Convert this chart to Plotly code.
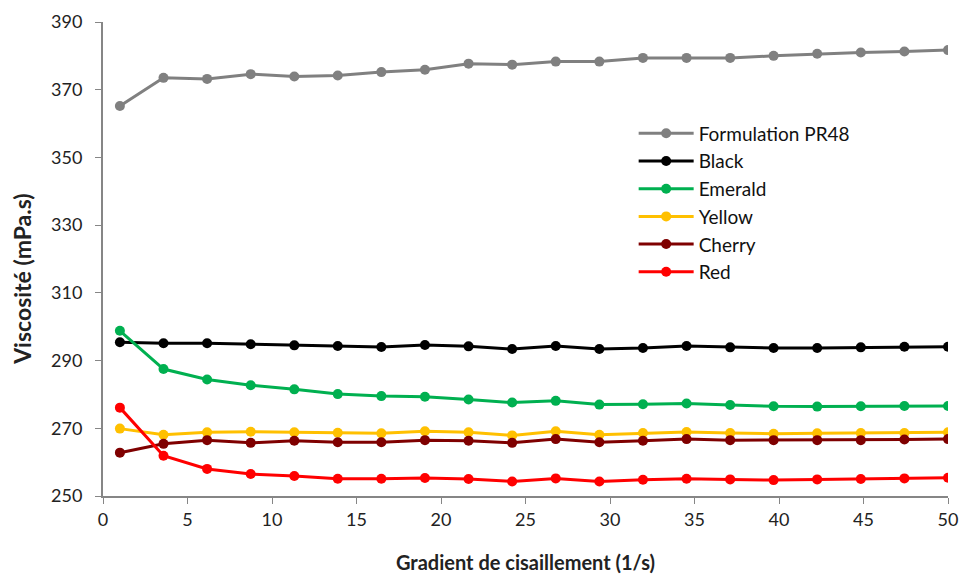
import plotly.graph_objects as go

# shear rate (1/s)
shear_rate = [1, 3.58, 6.16, 8.74, 11.32, 13.89, 16.47, 19.05, 21.63, 24.21,
              26.79, 29.37, 31.95, 34.53, 37.11, 39.68, 42.26, 44.84, 47.42, 50]

# viscosity (mPa.s)
pr48 = [365.2, 373.5, 373.2, 374.6, 373.9, 374.2, 375.2, 375.9, 377.7, 377.4,
        378.3, 378.3, 379.4, 379.4, 379.4, 380.0, 380.6, 381.0, 381.3, 381.7]
black = [295.4, 295.1, 295.1, 294.8, 294.5, 294.3, 294.0, 294.6, 294.2, 293.4,
         294.3, 293.4, 293.7, 294.3, 293.9, 293.7, 293.7, 293.9, 294.1, 294.1]
emerald = [298.8, 287.5, 284.4, 282.7, 281.5, 280.1, 279.5, 279.3, 278.5, 277.6,
           278.1, 277.0, 277.1, 277.3, 276.9, 276.5, 276.4, 276.5, 276.6, 276.6]
yellow = [269.9, 268.1, 268.8, 269.0, 268.8, 268.7, 268.5, 269.1, 268.8, 267.9,
          269.1, 268.1, 268.6, 268.9, 268.6, 268.4, 268.5, 268.6, 268.6, 268.8]
cherry = [262.8, 265.4, 266.5, 265.7, 266.3, 265.9, 265.9, 266.5, 266.3, 265.7,
          266.8, 265.9, 266.3, 266.8, 266.5, 266.5, 266.5, 266.5, 266.7, 266.8]
red = [276.1, 261.9, 258.0, 256.5, 255.9, 255.1, 255.1, 255.3, 255.0, 254.3,
       255.2, 254.3, 254.8, 255.1, 254.9, 254.7, 254.9, 255.0, 255.2, 255.4]

series = [
    ('Formulation PR48', pr48, '#808080'),
    ('Black', black, '#000000'),
    ('Emerald', emerald, '#00B050'),
    ('Yellow', yellow, '#FFC000'),
    ('Cherry', cherry, '#7F0000'),
    ('Red', red, '#FF0000'),
]

fig = go.Figure()
for name, vals, color in series:
    fig.add_trace(go.Scatter(
        x=shear_rate, y=vals, name=name, mode='lines+markers',
        line=dict(color=color, width=3),
        marker=dict(color=color, size=10),
    ))

base_font = dict(family='Lato, Open Sans, sans-serif', size=18, color='#222')
fig.update_layout(
    width=960, height=574,
    margin=dict(l=103, r=12, t=22, b=78),
    plot_bgcolor='white', paper_bgcolor='white',
    font=base_font,
    legend=dict(
        x=0.628, y=0.805, xanchor='left', yanchor='top',
        font=dict(size=19, color='#111'),
        itemwidth=55, tracegroupgap=0,
        bgcolor='rgba(0,0,0,0)',
    ),
    xaxis=dict(
        range=[0, 50], dtick=5, tick0=0, automargin=False,
        showgrid=False, zeroline=False,
        showline=True, linecolor='#868686', linewidth=2,
        ticks='outside', ticklen=6, tickcolor='#868686', tickwidth=1,
        title=dict(text='<b>Gradient de cisaillement (1/s)</b>', font=dict(size=20), standoff=30),
    ),
    yaxis=dict(
        range=[250, 390], dtick=20, tick0=250, automargin=False,
        showgrid=False, zeroline=False,
        showline=True, linecolor='#868686', linewidth=2,
        ticks='outside', ticklen=6, tickcolor='#868686', tickwidth=1,
        ticklabelstandoff=9,
    ),
)

# y title sits a little below the plot's middle in the original
fig.add_annotation(
    text='<b>Viscosité (mPa.s)</b>', textangle=-90,
    xref='paper', yref='paper', x=0, y=0.456,
    xanchor='center', yanchor='middle', xshift=-81, showarrow=False,
    font=dict(size=23, color='#222'),
)

# drop the default 8px body margin so the 960x574 figure fills the window
fig.write_html(
    "out.html",
    config=dict(displayModeBar=False),
    post_script="document.body.style.margin='0';document.body.style.overflow='hidden';",
)
